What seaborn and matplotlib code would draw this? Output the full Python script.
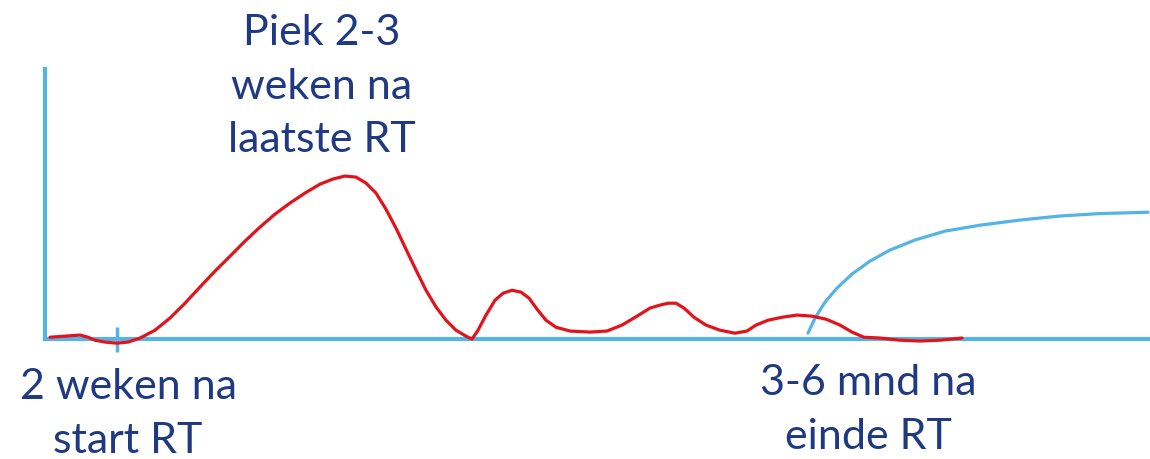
import matplotlib
matplotlib.use("Agg")
import matplotlib.pyplot as plt
import seaborn as sns
import pandas as pd

# red curve: acute reaction (time units, relative intensity)
red_t = [0.5, 2.0, 3.5, 4.3, 5.0, 6.0, 7.2, 8.3, 9.5, 11.0, 12.5, 14.0, 15.5,
         17.0, 18.5, 20.0, 21.5, 23.0, 24.5, 26.0, 27.5, 28.8, 30.0, 31.1,
         32.1, 33.1, 34.1, 35.1, 36.1, 37.1, 38.1, 39.1, 40.1, 41.1, 42.1,
         42.7, 43.3, 44.1, 45.0, 45.8, 46.7, 47.6, 48.4, 49.2, 50.1, 51.1,
         52.5, 54.5, 56.2, 57.7, 59.2, 60.5, 61.5, 62.3, 63.1, 63.9, 64.9,
         66.1, 67.5, 69.0, 70.2, 71.1, 72.3, 73.7, 75.2, 76.7, 78.1, 79.5,
         80.7, 81.9, 83.5, 85.5, 87.5, 89.5, 91.7]
red_v = [0.7, 1.1, 1.5, 0.7, -0.4, -1.1, -1.5, -1.1, 0.4, 3.3, 7.8, 13.3, 19.3,
         25.2, 30.7, 36.3, 41.5, 46.3, 50.4, 54.1, 57.4, 59.3, 60.4, 60.0,
         57.8, 54.1, 48.1, 41.1, 33.3, 25.6, 18.1, 11.9, 7.0, 3.3, 1.1,
         0.0, 3.3, 8.9, 14.4, 17.0, 18.1, 17.4, 15.2, 11.1, 7.0, 4.4,
         3.0, 2.6, 3.0, 5.2, 8.5, 11.5, 12.6, 13.3, 13.3, 11.5, 8.1,
         5.2, 3.3, 2.2, 3.0, 5.2, 7.0, 8.1, 8.9, 8.5, 7.4, 5.2,
         2.6, 0.7, 0.4, -0.4, -0.7, -0.4, 0.4]

# blue curve: late reaction
blue_t = [76.3, 77.0, 78.0, 79.2, 80.7, 82.5, 84.5, 87.0, 90.0, 93.5, 97.5,
          101.5, 105.5, 110.3]
blue_v = [2.2, 7.8, 13.7, 18.9, 24.1, 28.9, 33.0, 36.7, 40.0, 42.2, 44.1,
          45.6, 46.5, 47.0]

tick_t = [7.2]
labels = ["Piek 2-3\nweken na\nlaatste RT", "2 weken na\nstart RT", "3-6 mnd na\neinde RT"]
label_t = [27.7, 8.3, 82.3]
label_v = [93.5, -27.8, -26.3]

RED = "#E3131B"
BLUE = "#55B4E6"
NAVY = "#1F3A82"

sns.set_theme(style="white")
plt.rcParams["font.family"] = ["Lato", "DejaVu Sans"]

fig = plt.figure(figsize=(11.5, 4.59), dpi=100)
ax = fig.add_axes([0, 0, 1, 1])

red = pd.DataFrame({"t": red_t, "v": red_v})
blue = pd.DataFrame({"t": blue_t, "v": blue_v})
sns.lineplot(data=red, x="t", y="v", ax=ax, color=RED, lw=2.3, sort=False,
             zorder=4, solid_joinstyle="round", solid_capstyle="round")
sns.lineplot(data=blue, x="t", y="v", ax=ax, color=BLUE, lw=2.3, sort=False,
             zorder=3, solid_joinstyle="round", solid_capstyle="round")

ax.set_xlim(-4.5, 110.5)
ax.set_ylim(-44.4, 125.6)

for s in ["top", "right"]:
    ax.spines[s].set_visible(False)
for s in ["left", "bottom"]:
    ax.spines[s].set_color(BLUE)
    ax.spines[s].set_linewidth(3)
    ax.spines[s].set_position(("data", 0))
ax.spines["left"].set_bounds(0, 100)
ax.spines["bottom"].set_bounds(0, 110.5)

ax.set_xticks(tick_t)
ax.set_xticklabels([""])
ax.set_yticks([])
ax.tick_params(axis="x", direction="inout", length=18, width=2.5, color=BLUE, bottom=True)
ax.set_xlabel("")
ax.set_ylabel("")

for txt, x, y in zip(labels, label_t, label_v):
    ax.text(x, y, txt, ha="center", va="center", fontsize=31, color=NAVY,
            linespacing=1.5)

fig.savefig("out.png", dpi=100, facecolor="white")
